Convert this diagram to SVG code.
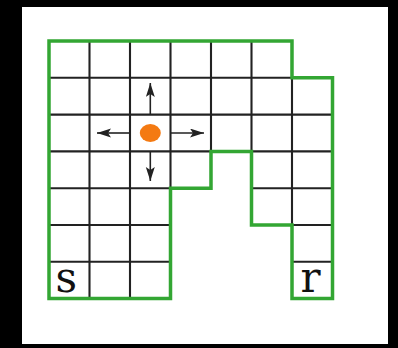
<svg xmlns="http://www.w3.org/2000/svg" width="398" height="348" viewBox="0 0 398 348">
  <style>
    .grid { stroke: #222; stroke-width: 2.1; fill: none; }
    .border { stroke: #33a633; stroke-width: 3.5; fill: none; stroke-linejoin: miter; }
    .arrow { stroke: #222; stroke-width: 1.6; fill: none; }
    .lbl { font-family: "DejaVu Serif", "Liberation Serif", serif; font-size: 42px; fill: #111; }
  </style>
  <defs>
    <clipPath id="shape">
      <polygon points="49,41 292,41 292,77.8 332.5,77.8 332.5,298.6 292,298.6 292,225 251.5,225 251.5,151.4 211,151.4 211,188.2 170.5,188.2 170.5,298.6 49,298.6"/>
    </clipPath>
    <marker id="ah" markerUnits="userSpaceOnUse" markerWidth="16" markerHeight="10" refX="14" refY="4.5" orient="auto">
      <path d="M0,0 L14,4.5 L0,9 L3,4.5 Z" fill="#222"/>
    </marker>
  </defs>
  <rect x="0" y="0" width="398" height="348" fill="#000"/>
  <rect x="22" y="7" width="366" height="337" fill="#fff"/>
  <g id="grid" clip-path="url(#shape)" class="grid">
    <line x1="89.5" y1="30" x2="89.5" y2="310"/>
    <line x1="130" y1="30" x2="130" y2="310"/>
    <line x1="170.5" y1="30" x2="170.5" y2="310"/>
    <line x1="211" y1="30" x2="211" y2="310"/>
    <line x1="251.5" y1="30" x2="251.5" y2="310"/>
    <line x1="292" y1="30" x2="292" y2="310"/>
    <line x1="40" y1="77.8" x2="340" y2="77.8"/>
    <line x1="40" y1="114.6" x2="340" y2="114.6"/>
    <line x1="40" y1="151.4" x2="340" y2="151.4"/>
    <line x1="40" y1="188.2" x2="340" y2="188.2"/>
    <line x1="40" y1="225" x2="340" y2="225"/>
    <line x1="40" y1="261.8" x2="340" y2="261.8"/>
  </g>
  <g id="cell-ring" fill="#fff">
    <ellipse cx="150.3" cy="133" rx="14" ry="12"/>
  </g>
  <g id="outline">
    <polygon class="border" points="49,41 292,41 292,77.8 332.5,77.8 332.5,298.6 292,298.6 292,225 251.5,225 251.5,151.4 211,151.4 211,188.2 170.5,188.2 170.5,298.6 49,298.6"/>
  </g>
  <g id="connectors">
    <line class="arrow" x1="150.3" y1="114" x2="150.3" y2="83" marker-end="url(#ah)"/>
    <line class="arrow" x1="129" y1="133" x2="97" y2="133" marker-end="url(#ah)"/>
    <line class="arrow" x1="171" y1="133" x2="204" y2="133" marker-end="url(#ah)"/>
    <line class="arrow" x1="150.3" y1="152" x2="150.3" y2="181" marker-end="url(#ah)"/>
  </g>
  <g id="agent">
    <ellipse cx="150.3" cy="133" rx="10.5" ry="9" fill="#f47a12"/>
  </g>
  <g id="start">
    <text class="lbl" x="55.5" y="292">s</text>
  </g>
  <g id="goal">
    <text class="lbl" x="300.5" y="292">r</text>
  </g>
</svg>
